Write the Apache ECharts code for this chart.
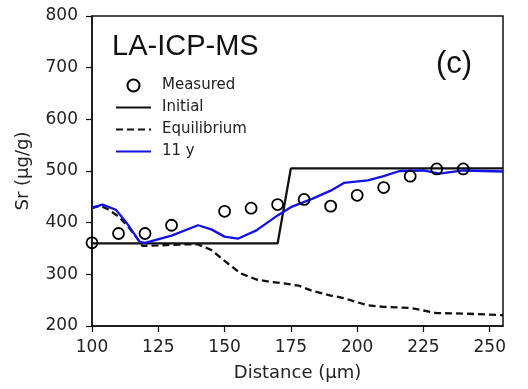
<!DOCTYPE html>
<html>
<head>
    <meta charset="utf-8">
    <title>ECharts</title>
    <script src="https://cdn.jsdelivr.net/npm/echarts@6/dist/echarts.min.js"></script>
</head>
<body style="margin:0;background:#fff;">
    <div id="main" style="width:528px;height:389px;"></div>

    <script type="text/javascript">
    // measured points
    var measuredX = [100, 110, 120, 130, 150, 160, 170, 180, 190, 200, 210, 220, 230, 240];
    var measuredY = [361, 379, 379, 395, 422, 428, 435, 445, 432, 453, 468, 490, 504, 504];

    // initial profile (step)
    var initialX = [100, 170, 175, 255];
    var initialY = [360, 360, 505, 505];

    // equilibrium profile
    var equilX = [100, 103, 106, 110, 114, 117, 119, 125, 130, 135, 140, 145, 150, 156, 162, 168, 173, 178, 183, 190, 195, 200, 204, 210, 220, 225, 230, 240, 250, 255];
    var equilY = [428, 433, 426, 412, 390, 370, 355, 356, 357, 358, 358, 347, 326, 302, 290, 285, 282, 278, 268, 259, 254, 246, 240, 237, 235, 230, 225, 224, 222, 221];

    // model after 11 y
    var y11X = [100, 104, 109, 113, 118, 120, 130, 140, 145, 150, 155, 162, 170, 175, 183, 190, 195, 204, 210, 216, 225, 231, 240, 255];
    var y11Y = [429, 435, 425, 400, 363, 361, 375, 395, 387, 373, 369, 385, 414, 430, 446, 462, 477, 482, 490, 500, 501, 495, 501, 499];

    var xTicks = [100, 125, 150, 175, 200, 225, 250];
    var yTicks = [200, 300, 400, 500, 600, 700, 800];

    function pairs(xs, ys) {
        var res = [];
        for (var i = 0; i < xs.length; i++) {
            res.push([xs[i], ys[i]]);
        }
        return res;
    }

    var font = 'DejaVu Sans';
    var myChart = echarts.init(document.getElementById('main'));

    // hide the little symbol ECharts puts on line legend icons
    var noDot = {opacity: 0};

    var option = {
        animation: false,
        backgroundColor: '#fff',
        title: [
            {
                text: 'LA-ICP-MS',
                left: 112, top: 32, padding: 0,
                textStyle: {fontFamily: 'Liberation Sans', fontSize: 29, fontWeight: 'normal', color: '#111'}
            },
            {
                text: '(c)',
                left: 436, top: 49, padding: 0,
                textStyle: {fontFamily: 'Liberation Sans', fontSize: 31, fontWeight: 'normal', color: '#111'}
            }
        ],
        legend: {
            orient: 'vertical',
            left: 115, top: 78,
            itemWidth: 35, itemHeight: 12, itemGap: 7,
            padding: 0,
            textStyle: {fontFamily: font, fontSize: 15, color: '#222', padding: [0, 0, 0, 6]},
            data: [
                {name: 'Measured'},
                {name: 'Initial', itemStyle: noDot},
                {name: 'Equilibrium', itemStyle: noDot},
                {name: '11 y', itemStyle: noDot}
            ]
        },
        grid: {
            left: 92, right: 25, top: 16, bottom: 63,
            show: true, borderColor: '#111', borderWidth: 1.5
        },
        xAxis: {
            type: 'value',
            min: xTicks[0], max: 255, interval: 25,
            name: 'Distance (µm)',
            nameLocation: 'middle', nameGap: 38,
            nameTextStyle: {fontFamily: font, fontSize: 18, color: '#222'},
            splitLine: {show: false},
            axisLine: {lineStyle: {color: '#111', width: 1.5}},
            axisTick: {length: 6, lineStyle: {color: '#111', width: 1.2}},
            axisLabel: {fontFamily: font, fontSize: 17, color: '#222', margin: 13, showMaxLabel: false}
        },
        yAxis: {
            type: 'value',
            min: yTicks[0], max: yTicks[yTicks.length - 1], interval: 100,
            name: 'Sr (µg/g)',
            nameLocation: 'middle', nameGap: 60,
            nameTextStyle: {fontFamily: font, fontSize: 18, color: '#222'},
            splitLine: {show: false},
            axisLine: {show: true, lineStyle: {color: '#111', width: 1.5}},
            axisTick: {show: true, length: 6, lineStyle: {color: '#111', width: 1.2}},
            axisLabel: {fontFamily: font, fontSize: 17, color: '#222', margin: 14}
        },
        series: [
            {
                name: 'Measured',
                type: 'scatter',
                symbol: 'circle',
                symbolSize: 11,
                itemStyle: {color: 'transparent', borderColor: '#000', borderWidth: 1.8, opacity: 1},
                data: pairs(measuredX, measuredY),
                z: 5
            },
            {
                name: 'Initial',
                type: 'line',
                showSymbol: false, symbol: 'none',
                lineStyle: {color: '#111', width: 2.3},
                itemStyle: {color: '#111'},
                data: pairs(initialX, initialY),
                z: 2
            },
            {
                name: 'Equilibrium',
                type: 'line',
                showSymbol: false, symbol: 'none',
                lineStyle: {color: '#111', width: 2.3, type: [7, 4]},
                itemStyle: {color: '#111'},
                data: pairs(equilX, equilY),
                z: 2
            },
            {
                name: '11 y',
                type: 'line',
                showSymbol: false, symbol: 'none',
                lineStyle: {color: '#1212e6', width: 2.3},
                itemStyle: {color: '#1212e6'},
                data: pairs(y11X, y11Y),
                z: 3
            }
        ]
    };

    myChart.setOption(option);
    </script>
</body>
</html>
